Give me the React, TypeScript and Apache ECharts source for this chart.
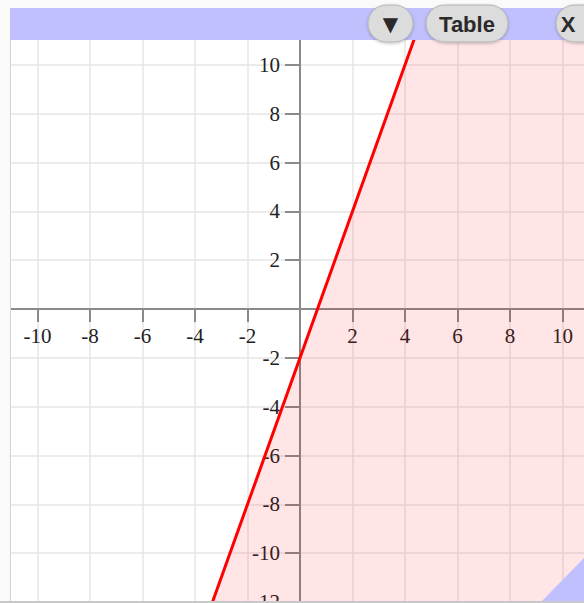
import React, { useEffect, useRef } from "react";
import * as echarts from "echarts";

// Inequality: shaded where y < 3x - 2, boundary line through these points
const lineX = [-4, 5];
const lineY = [-14, 13];
// Shaded region polygon (to the right of the line)
const shadeX = [-4, 5, 13, 13];
const shadeY = [-14, 13, 13, -14];
// Axis ranges / ticks
const axisMin = -12;
const axisMax = 12;
const tickStep = 2;
// Tick labels that are shown (others fall outside the visible frame)
const xTickLabels = [-10, -8, -6, -4, -2, 2, 4, 6, 8, 10];
const yTickLabels = [10, 8, 6, 4, 2, -2, -4, -6, -8, -10, -12];
const buttonLabels = ["▼", "Table", "X"];

const GRID_LEFT = -15;
const GRID_TOP = 16;
const GRID_W = 630;
const GRID_H = 586;

export default function App() {
  const ref = useRef<HTMLDivElement>(null);
  useEffect(() => {
    if (!ref.current) return;
    const chart = echarts.init(ref.current, null, { renderer: "svg" });
    const serif = "Liberation Serif";
    // axes sit on the zero lines: offset from grid edges
    const zeroX = GRID_LEFT + (GRID_W * (0 - axisMin)) / (axisMax - axisMin);
    const zeroY = GRID_TOP + (GRID_H * (axisMax - 0)) / (axisMax - axisMin);
    const xOffset = -(GRID_TOP + GRID_H - zeroY);
    const yOffset = -(zeroX - GRID_LEFT);
    const btnRect = (x: number, w: number) => ({
      type: "rect",
      z: 110,
      shape: { x, y: 5, width: w, height: 37, r: 18.5 },
      style: {
        fill: "#dcdcdc",
        stroke: "#b4b4b4",
        lineWidth: 1,
        shadowBlur: 3,
        shadowColor: "rgba(0,0,0,0.25)",
        shadowOffsetY: 1,
      },
    });
    const btnText = (cx: number, label: string, fontSize: number, bold: boolean, family: string) => ({
      type: "text",
      z: 111,
      style: {
        x: cx,
        y: 24,
        text: label,
        fill: "#2a2a2a",
        font: `${bold ? "bold " : ""}${fontSize}px ${family}`,
        align: "center",
        verticalAlign: "middle",
      },
    });
    chart.setOption({
      animation: false,
      backgroundColor: "#ffffff",
      grid: { left: GRID_LEFT, top: GRID_TOP, width: GRID_W, height: GRID_H, containLabel: false, outerBoundsMode: "none" },
      xAxis: {
        type: "value",
        min: axisMin,
        max: axisMax,
        interval: tickStep,
        offset: xOffset,
        axisLine: { onZero: false, lineStyle: { color: "#8a8a8a", width: 2 } },
        axisTick: { show: true, length: 13, lineStyle: { color: "#8a8a8a", width: 2 } },
        axisLabel: {
          formatter: (v: number) => (xTickLabels.includes(v) ? String(v) : ""),
          fontFamily: serif,
          fontSize: 21,
          color: "#222",
          margin: 16,
        },
        splitLine: { show: true, lineStyle: { color: "#e6e6e6", width: 1.5 } },
      },
      yAxis: {
        type: "value",
        min: axisMin,
        max: axisMax,
        interval: tickStep,
        offset: yOffset,
        axisLine: { onZero: false, lineStyle: { color: "#8a8a8a", width: 2 } },
        axisTick: { show: true, length: 15, lineStyle: { color: "#8a8a8a", width: 2 } },
        axisLabel: {
          formatter: (v: number) => (yTickLabels.includes(v) ? String(v) : ""),
          fontFamily: serif,
          fontSize: 21,
          color: "#222",
          margin: 20,
        },
        splitLine: { show: true, lineStyle: { color: "#e6e6e6", width: 1.5 } },
      },
      series: [
        {
          type: "custom",
          clip: true,
          silent: true,
          z: 1,
          data: [[0, 0]],
          renderItem: (_params: any, api: any) => {
            const pts = shadeX.map((x, i) => api.coord([x, shadeY[i]]));
            return {
              type: "polygon",
              shape: { points: pts },
              style: { fill: "rgba(255,0,0,0.1)" },
            };
          },
        },
        {
          type: "line",
          data: lineX.map((x, i) => [x, lineY[i]]),
          showSymbol: false,
          clip: true,
          lineStyle: { color: "#ff0000", width: 3 },
          z: 5,
        },
      ],
      graphic: [
        { type: "rect", z: 100, shape: { x: 0, y: 0, width: 10, height: 603 }, style: { fill: "#fafafa" } },
        { type: "rect", z: 100, shape: { x: 0, y: 0, width: 584, height: 8 }, style: { fill: "#fafafa" } },
        { type: "line", z: 101, shape: { x1: 10.5, y1: 8, x2: 10.5, y2: 601 }, style: { stroke: "#d4d4d4", lineWidth: 1 } },
        { type: "rect", z: 101, shape: { x: 0, y: 601, width: 584, height: 2 }, style: { fill: "#c8c8c8" } },
        { type: "rect", z: 102, shape: { x: 10, y: 8, width: 574, height: 32 }, style: { fill: "#c0c0ff" } },
        {
          type: "polygon",
          z: 102,
          shape: { points: [[542, 601], [584, 558], [584, 601]] },
          style: { fill: "#c0c0ff" },
        },
        btnRect(368, 45),
        btnText(390.5, buttonLabels[0], 20, false, '"DejaVu Sans", sans-serif'),
        btnRect(426, 82),
        btnText(467, buttonLabels[1], 22, true, '"Liberation Sans", Arial, sans-serif'),
        btnRect(556, 50),
        btnText(568, buttonLabels[2], 22, true, '"Liberation Sans", Arial, sans-serif'),
      ],
    });
    return () => chart.dispose();
  }, []);
  return (
    <div
      ref={ref}
      style={{ position: "fixed", left: 0, top: 0, width: 584, height: 603, background: "#fff" }}
    />
  );
}
